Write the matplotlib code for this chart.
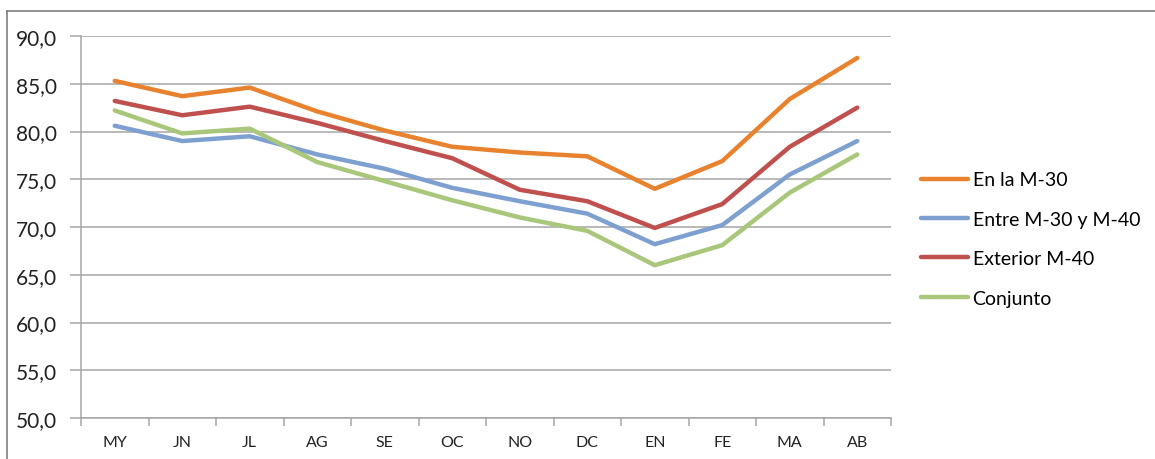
import matplotlib
matplotlib.use("Agg")
import matplotlib.pyplot as plt
from matplotlib.lines import Line2D
from matplotlib.ticker import FuncFormatter, FixedLocator

# meses (mayo a abril)
meses = ["MY", "JN", "JL", "AG", "SE", "OC", "NO", "DC", "EN", "FE", "MA", "AB"]

en_m30 = [85.3, 83.7, 84.6, 82.1, 80.1, 78.4, 77.8, 77.4, 74.0, 76.9, 83.4, 87.7]
entre_m30_m40 = [80.6, 79.0, 79.5, 77.6, 76.1, 74.1, 72.7, 71.4, 68.2, 70.2, 75.5, 79.0]
exterior_m40 = [83.2, 81.7, 82.6, 80.9, 79.0, 77.2, 73.9, 72.7, 69.9, 72.4, 78.4, 82.5]
conjunto = [82.2, 79.8, 80.3, 76.8, 74.8, 72.8, 71.0, 69.6, 66.0, 68.1, 73.6, 77.6]

series = [
    ("En la M-30", en_m30, "#E8822E"),
    ("Entre M-30 y M-40", entre_m30_m40, "#7EA0D0"),
    ("Exterior M-40", exterior_m40, "#C0504D"),
    ("Conjunto", conjunto, "#A8C77A"),
]

plt.rcParams["font.family"] = ["Lato", "DejaVu Sans"]

W, H = 1155, 460
fig = plt.figure(figsize=(W / 100, H / 100), dpi=100)
ax = fig.add_axes([81 / W, 1 - 419 / H, (891 - 81) / W, (419 - 37) / H])

x = list(range(len(meses)))
for nombre, vals, color in series:
    ax.plot(x, vals, color=color, lw=3.2, label=nombre, solid_joinstyle="round",
            solid_capstyle="round")

ax.set_xlim(-0.5, len(meses) - 0.5)
ax.set_ylim(50, 90)
ax.set_yticks(range(50, 91, 5))
ax.yaxis.set_major_formatter(FuncFormatter(lambda v, p: f"{v:.1f}".replace(".", ",")))
ax.grid(axis="y", color="#A6A6A6", lw=1.1)
ax.set_axisbelow(True)

# ticks entre categorias, etiquetas en el centro
ax.xaxis.set_major_locator(FixedLocator([i - 0.5 for i in range(len(meses) + 1)]))
ax.xaxis.set_major_formatter(FuncFormatter(lambda v, p: ""))
ax.set_xticks(x, minor=True)
ax.set_xticklabels(meses, minor=True, fontsize=11.5, color="#222222")
ax.tick_params(axis="x", which="major", length=6, color="#A6A6A6", width=1.1)
ax.tick_params(axis="x", which="minor", length=0, pad=12)
ax.tick_params(axis="y", length=8, color="#A6A6A6", width=1.1, labelsize=15,
               pad=9, labelcolor="#222222")

for s in ["top", "right"]:
    ax.spines[s].set_visible(False)
for s in ["left", "bottom"]:
    ax.spines[s].set_color("#A6A6A6")
    ax.spines[s].set_linewidth(1.1)

fig.legend(loc="center left", bbox_to_anchor=(921 / W, 1 - 240 / H), frameon=False,
           fontsize=14, handlelength=2.4, handletextpad=0.25, labelspacing=1.15,
           borderpad=0, borderaxespad=0)

# marco exterior
fig.add_artist(Line2D([7 / W, 7 / W], [0, 1 - 12 / H], color="#7F7F7F", lw=1.2))
fig.add_artist(Line2D([7 / W, 1], [1 - 12 / H, 1 - 12 / H], color="#7F7F7F", lw=1.2))

fig.savefig("out.png", dpi=100)
